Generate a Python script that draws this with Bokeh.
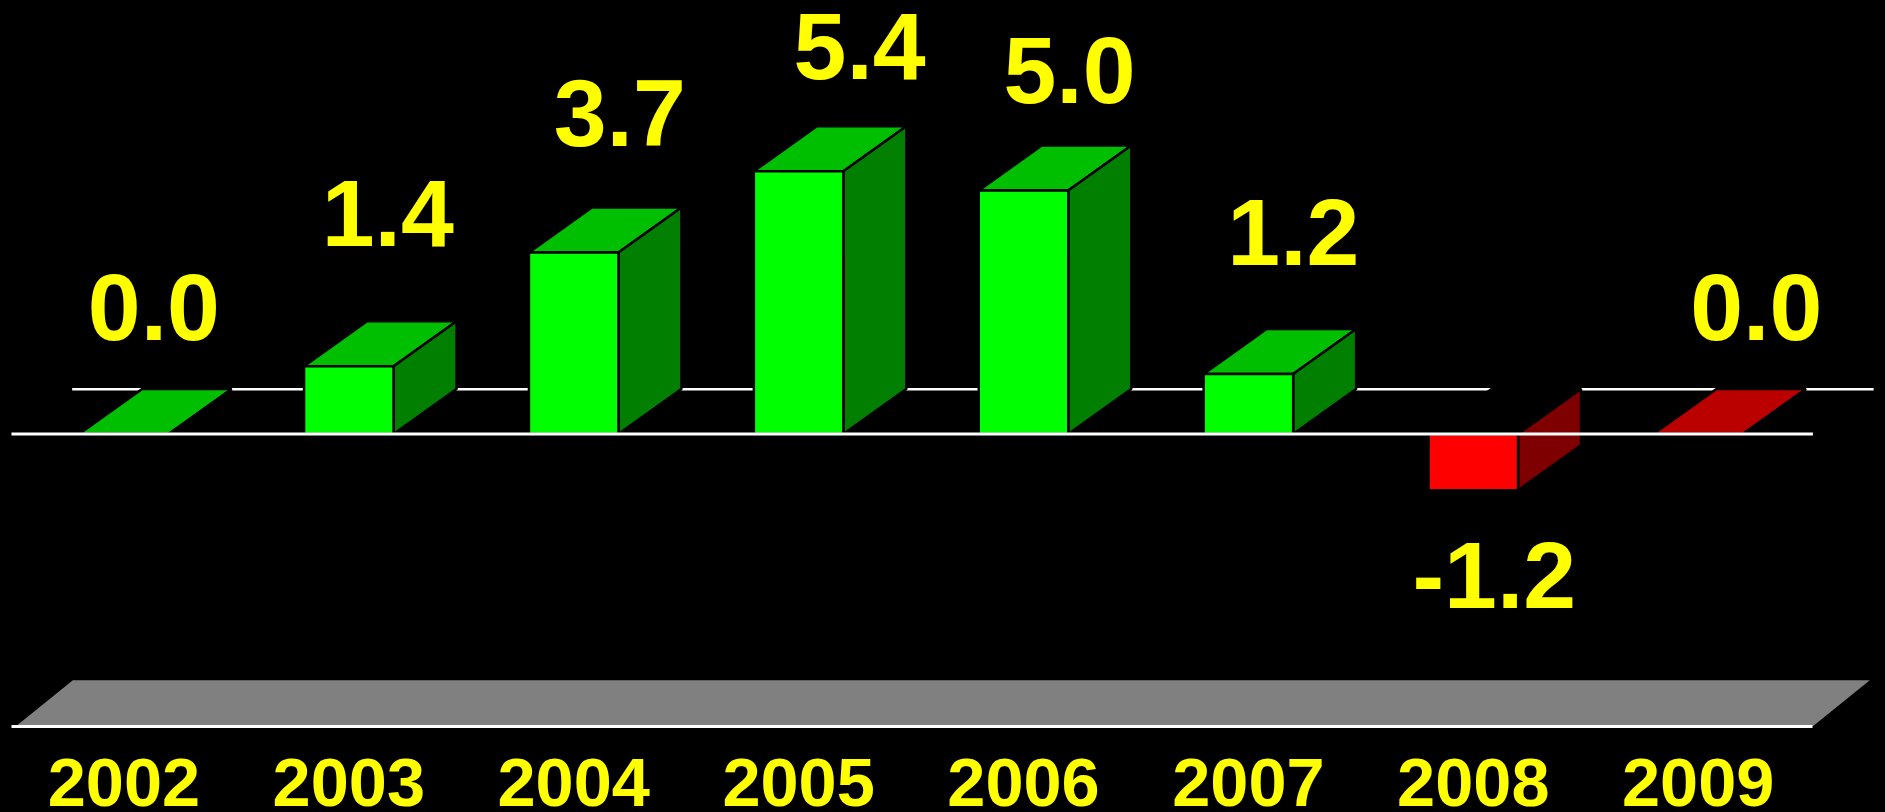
from bokeh.embed import file_html
from bokeh.resources import INLINE
from bokeh.plotting import figure
from bokeh.models import ColumnDataSource, LinearAxis, FixedTicker, Range1d
from bokeh.core.properties import value

# ---- data
years = ["2002", "2003", "2004", "2005", "2006", "2007", "2008", "2009"]
values = [0.0, 1.40, 3.75, 5.43, 5.03, 1.24, -1.16, 0.0]
labels = ["0.0", "1.4", "3.7", "5.4", "5.0", "1.2", "-1.2", "0.0"]
is_red = [False, False, False, False, False, False, True, True]

# ---- hand-placed label offsets (px from the bar's front-top centre)
label_dx = [30, 39, 46, 61, 46, 45, 21, 58]
label_dy = [-127, -153, -140, -125, -121, -142, 85, -127]

# ---- pseudo-3D styling
FRONT = {False: "#00FF00", True: "#FF0000"}
TOP = {False: "#00BE00", True: "#BB0000"}
SIDE = {False: "#007F00", True: "#7F0000"}
top_override = {6: "#000000"}
BAR_W = 0.398
DEPTH_X = 0.28
DEPTH_Y = 0.93
FLOOR = -6.04
FLOOR_DX = 0.253
FLOOR_DY = 0.95
WALL_Y = 0.926
WALL_DX = 0.27
SPAN = (-0.50, 7.51)

W, H = 1885, 812
p = figure(width=W, height=H, output_backend="svg", toolbar_location=None,
           x_axis_type=None, y_axis_type=None,
           x_range=Range1d(-0.5487, 7.8328), y_range=Range1d(-7.820, 8.957),
           background_fill_color="#000000", border_fill_color="#000000",
           outline_line_color=None, min_border=0)

# rear wall line
p.segment([SPAN[0] + WALL_DX], [WALL_Y], [SPAN[1] + WALL_DX], [WALL_Y],
          line_color="#FFFFFF", line_width=2.5)

# floor slab
p.patch([SPAN[0] + 0.02, SPAN[1], SPAN[1] + FLOOR_DX, SPAN[0] + 0.02 + FLOOR_DX],
        [FLOOR, FLOOR, FLOOR + FLOOR_DY, FLOOR + FLOOR_DY],
        fill_color="#808080", line_color=None)

fx, fy, fc, sx, sy, sc, tx, ty, tc = [], [], [], [], [], [], [], [], []
for i, v in enumerate(values):
    l, r = i - BAR_W / 2, i + BAR_W / 2
    top = max(v, 0)
    fx.append([l, r, r, l])
    fy.append([0, 0, v, v])
    fc.append(FRONT[is_red[i]])
    sx.append([r, r + DEPTH_X, r + DEPTH_X, r])
    sy.append([0, DEPTH_Y, v + DEPTH_Y, v])
    sc.append(SIDE[is_red[i]])
    tx.append([l, r, r + DEPTH_X, l + DEPTH_X])
    ty.append([top, top, top + DEPTH_Y, top + DEPTH_Y])
    tc.append(top_override.get(i, TOP[is_red[i]]))

p.patches(tx, ty, fill_color=tc, line_color="#000000", line_width=2.5)
p.patches(sx, sy, fill_color=sc, line_color="#000000", line_width=2.5)
p.patches(fx, fy, fill_color=fc, line_color="#000000", line_width=2.5)

# zero line in front of the bars
p.segment([SPAN[0]], [0], [SPAN[1]], [0], line_color="#FFFFFF", line_width=3)

# value labels
src = ColumnDataSource(dict(x=list(range(len(values))), y=values, text=labels,
                            dx=label_dx, dy=label_dy))
p.text("x", "y", text="text", source=src, x_offset="dx", y_offset="dy",
       text_font=value("Liberation Sans"), text_font_style="bold",
       text_font_size="95px", text_color="#FFFF00",
       text_align="center", text_baseline="alphabetic")

# category axis sitting on the floor edge
ax = LinearAxis(ticker=FixedTicker(ticks=list(range(len(years)))),
                major_label_overrides={i: y for i, y in enumerate(years)},
                fixed_location=FLOOR, bounds=SPAN,
                axis_line_color="#FFFFFF", axis_line_width=3,
                major_tick_line_color=None, minor_tick_line_color=None,
                major_label_standoff=27,
                major_label_text_color="#FFFF00",
                major_label_text_font="Liberation Sans",
                major_label_text_font_style="bold",
                major_label_text_font_size="68.5px")
p.add_layout(ax, "below")

html = file_html(p, INLINE)
html = html.replace("<head>", "<head><style>html,body{background:#000}</style>", 1)
open("out.html", "w").write(html)
